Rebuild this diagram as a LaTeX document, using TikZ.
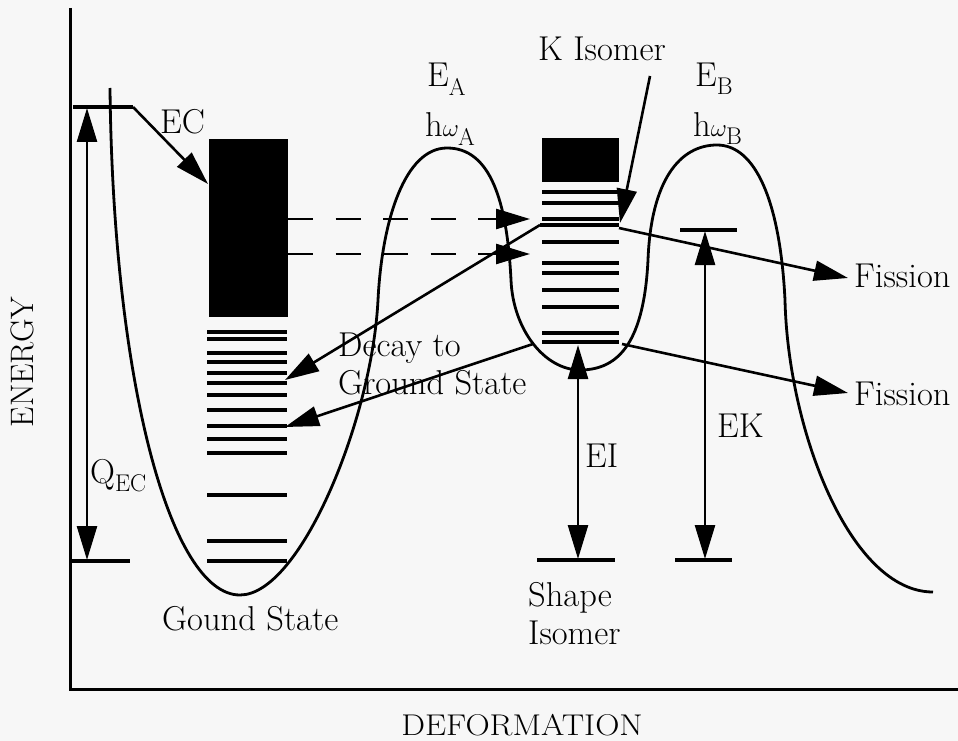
\documentclass[tikz,border=0pt]{standalone}
\usepackage{fontspec}
\usetikzlibrary{arrows.meta}
\begin{document}
\begin{tikzpicture}[x=1pt,y=-1pt,
  lev/.style={line width=3.4pt},
  pot/.style={line width=2.8pt, line join=round},
  axis/.style={line width=3pt},
  conn/.style={line width=2.6pt, -{Triangle[length=34pt,width=20pt]}},
  dconn/.style={line width=2.6pt, {Triangle[length=34pt,width=20pt]}-{Triangle[length=34pt,width=20pt]}},
  dashconn/.style={line width=2.6pt, dash pattern=on 25pt off 22.5pt},
  lbl/.style={font=\fontsize{34.5}{40}\selectfont, inner sep=0pt, anchor=base west}]
\useasboundingbox[fill=black!3] (0,0) rectangle (958,741);

% axes
\coordinate (ytop) at (70,8);
\coordinate (orig) at (70,689);
\coordinate (xend) at (958,689);
\draw[axis] (ytop) -- (orig) -- (xend);
\node[font=\fontsize{32.5}{36}\selectfont, rotate=90, inner sep=0pt] (energy) at (22,362) {ENERGY};
\node[font=\fontsize{30}{34}\selectfont, xscale=1.12, inner sep=0pt, anchor=base] (deform) at (522,735) {DEFORMATION};

% potential curve
\draw[pot] (110,88) .. controls (113,380) and (170,595) .. (240,595)
  .. controls (300,595) and (372,420) .. (378,300)
  .. controls (382,220) and (405,148) .. (447,148)
  .. controls (490,148) and (507,200) .. (511,280)
  .. controls (513,330) and (545,370) .. (580,370)
  .. controls (620,370) and (644,340) .. (648,260)
  .. controls (651,180) and (680,145) .. (717,145)
  .. controls (755,145) and (780,200) .. (785,300)
  .. controls (788,430) and (850,592) .. (933,592);

% Q_EC levels and arrow
\coordinate (qtopL) at (73,107); \coordinate (qtopR) at (133,107);
\coordinate (qbotL) at (71,561); \coordinate (qbotR) at (130,561);
\draw[lev] (qtopL) -- (qtopR);
\draw[lev] (qbotL) -- (qbotR);
\coordinate (qa) at (87,108); \coordinate (qb) at (87,560);
\draw[dconn] (qa) -- (qb);
\node[lbl] (qec) at (90,483) {Q$_{\mathrm{EC}}$};

% EC arrow
\coordinate (ectip) at (208,184);
\draw[conn] (qtopR) -- (ectip);
\node[lbl] (ec) at (160,134) {EC};

% left black box and levels
\fill (209,139) rectangle (288,317);
\foreach \yy in {332,339,353,362,373,383,395,410,426,439,453,495,541,561}
  \draw[lev] (207,\yy) -- (287,\yy);

% middle black box and levels
\fill (542,138) rectangle (619,182);
\foreach \yy in {192,203,219,242,263,273,290,307,333,342}
  \draw[lev] (542,\yy) -- (619,\yy);
\coordinate (kL) at (540,225); \coordinate (kR) at (619,225);
\draw[lev] (kL) -- (kR);
\coordinate (gL) at (533,344); \coordinate (gR) at (622,344);

% dashed transitions
\coordinate (d1s) at (288,219); \coordinate (d1e) at (530,219);
\coordinate (d2s) at (288,254); \coordinate (d2e) at (530,254);
\draw[dashconn] (d1s) -- (500,219);
\draw[dashconn] (d2s) -- (500,254);
\draw[conn] (495,219) -- (d1e);
\draw[conn] (495,254) -- (d2e);

% decay arrows
\coordinate (dt1) at (285,380); \coordinate (dt2) at (285,427);
\draw[conn] (kL) -- (dt1);
\draw[conn] (gL) -- (dt2);
\node[lbl] (decay1) at (338,356) {Decay to};
\node[lbl] (decay2) at (338,394) {Ground State};

% K isomer
\coordinate (ks) at (650,76); \coordinate (kt) at (620,223);
\draw[conn] (ks) -- (kt);
\node[lbl] (kiso) at (538,61) {K Isomer};

% fission arrows
\coordinate (f1) at (848,278); \coordinate (f2) at (848,393);
\draw[conn] (619,228) -- (f1);
\draw[conn] (gR) -- (f2);
\node[lbl] (fis1) at (854,287) {Fission};
\node[lbl] (fis2) at (854,405) {Fission};

% shape isomer EI
\coordinate (siL) at (537,560); \coordinate (siR) at (615,560);
\draw[lev] (siL) -- (siR);
\draw[dconn] (578,345) -- (578,559);
\node[lbl] (ei) at (585,467) {EI};
\node[lbl] (shape) at (528,606) {Shape};
\node[lbl] (isomer) at (528,644) {Isomer};

% EK
\coordinate (ekTL) at (680,230); \coordinate (ekTR) at (737,230);
\coordinate (ekBL) at (675,560); \coordinate (ekBR) at (732,560);
\draw[lev] (ekTL) -- (ekTR);
\draw[lev] (ekBL) -- (ekBR);
\draw[dconn] (705,231) -- (705,559);
\node[lbl] (ek) at (717,437) {EK};

% barrier labels
\node[lbl] (ea) at (427,87) {E$_{\mathrm{A}}$};
\node[lbl] (hwa) at (425,137) {h$\omega_{\mathrm{A}}$};
\node[lbl] (eb) at (695,87) {E$_{\mathrm{B}}$};
\node[lbl] (hwb) at (693,137) {h$\omega_{\mathrm{B}}$};

% ground state
\node[lbl] (gs) at (162,630) {Gound State};
\end{tikzpicture}
\end{document}
